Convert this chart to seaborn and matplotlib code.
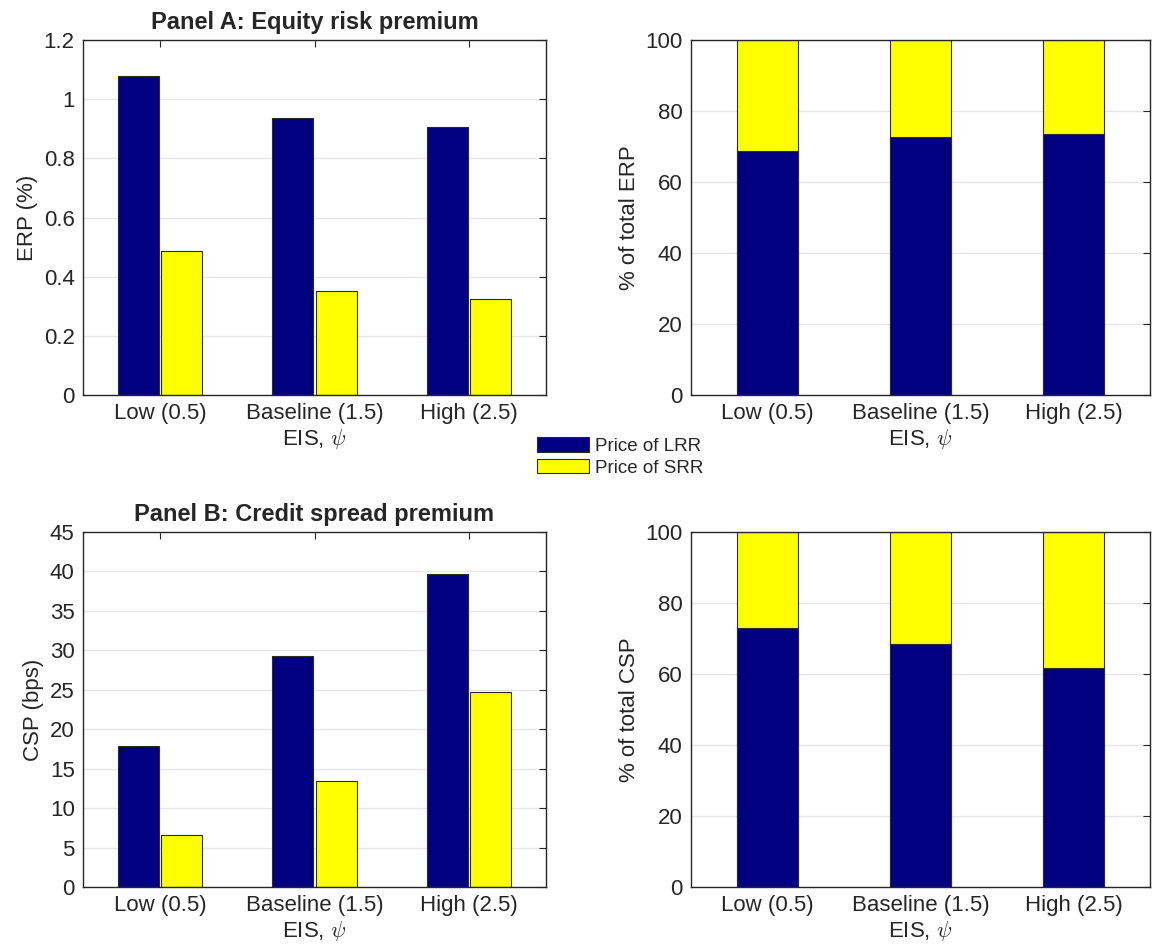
import numpy as np
import pandas as pd
import matplotlib
matplotlib.use("Agg")
import matplotlib.pyplot as plt
from matplotlib.ticker import FuncFormatter
import seaborn as sns

# values
eis_labels = ["Low (0.5)", "Baseline (1.5)", "High (2.5)"]
channels = ["Price of LRR", "Price of SRR"]

erp_lrr = [1.077, 0.937, 0.907]
erp_srr = [0.486, 0.350, 0.324]
csp_lrr = [17.93, 29.24, 39.70]
csp_srr = [6.63, 13.50, 24.68]

erp_share_lrr = [68.8, 72.8, 73.6]
erp_share_srr = [31.2, 27.2, 26.4]
csp_share_lrr = [73.0, 68.4, 61.8]
csp_share_srr = [27.0, 31.6, 38.2]

NAVY = "#000080"
YELLOW = "#ffff00"
EDGE = "#2b2b2b"
AXCOL = "#262626"


def long_frame(lrr, srr):
    return pd.DataFrame({
        "eis": eis_labels * 2,
        "value": list(lrr) + list(srr),
        "channel": [channels[0]] * 3 + [channels[1]] * 3,
    })


def style_axes(ax, ymax, yticks, ylabel):
    ax.set_ylim(0, ymax)
    ax.set_yticks(yticks)
    ax.yaxis.set_major_formatter(FuncFormatter(lambda v, p: "%g" % round(v, 6)))
    ax.set_xlabel(r"EIS, $\psi$", fontsize=16, labelpad=2)
    ax.set_ylabel(ylabel, fontsize=16)
    ax.grid(axis="y", color="#e6e6e6", linewidth=1)
    ax.set_axisbelow(True)
    ax.tick_params(direction="in", length=5, width=0.8, labelsize=16,
                   colors=AXCOL, top=True, right=True, pad=6)
    for s in ax.spines.values():
        s.set_visible(True)
        s.set_color(AXCOL)
        s.set_linewidth(1.0)


def grouped(ax, lrr, srr, legend=False):
    sns.barplot(data=long_frame(lrr, srr), x="eis", y="value", hue="channel",
                palette=[NAVY, YELLOW], saturation=1, width=0.56, gap=0.05,
                edgecolor=EDGE, linewidth=0.8, ax=ax, legend=legend)


def stacked(ax, lrr, srr):
    total = [a + b for a, b in zip(lrr, srr)]
    sns.barplot(x=eis_labels, y=total, color=YELLOW, saturation=1, width=0.4,
                edgecolor=EDGE, linewidth=0.8, ax=ax)
    sns.barplot(x=eis_labels, y=list(lrr), color=NAVY, saturation=1, width=0.4,
                edgecolor=EDGE, linewidth=0.8, ax=ax)


sns.set_theme(style="white")
plt.rcParams["font.family"] = ["Liberation Sans", "DejaVu Sans"]
plt.rcParams["mathtext.fontset"] = "cm"

W, H = 1157, 948
fig = plt.figure(figsize=(W / 100, H / 100), dpi=100)


def frac(x0, y0, x1, y1):
    return [x0 / W, 1 - y1 / H, (x1 - x0) / W, (y1 - y0) / H]


ax1 = fig.add_axes(frac(83, 40, 546, 395))
ax2 = fig.add_axes(frac(691, 40, 1150, 395))
ax3 = fig.add_axes(frac(83, 532, 546, 887))
ax4 = fig.add_axes(frac(691, 532, 1150, 887))

grouped(ax1, erp_lrr, erp_srr, legend=True)
handles, labels = ax1.get_legend_handles_labels()
ax1.get_legend().remove()
style_axes(ax1, 1.2, np.arange(0, 1.21, 0.2), "ERP (%)")
ax1.set_title("Panel A: Equity risk premium", fontsize=17, fontweight="bold", pad=8)

stacked(ax2, erp_share_lrr, erp_share_srr)
style_axes(ax2, 100, np.arange(0, 101, 20), "% of total ERP")

grouped(ax3, csp_lrr, csp_srr)
style_axes(ax3, 45, np.arange(0, 46, 5), "CSP (bps)")
ax3.set_title("Panel B: Credit spread premium", fontsize=17, fontweight="bold", pad=8)

stacked(ax4, csp_share_lrr, csp_share_srr)
style_axes(ax4, 100, np.arange(0, 101, 20), "% of total CSP")

fig.legend(handles, labels, loc="center", bbox_to_anchor=(620 / W, 1 - 457 / H),
           frameon=False, fontsize=13.5, handlelength=2.8, handleheight=0.8,
           handletextpad=0.3, labelspacing=0.2, borderpad=0)

fig.savefig("out.png", dpi=100)
